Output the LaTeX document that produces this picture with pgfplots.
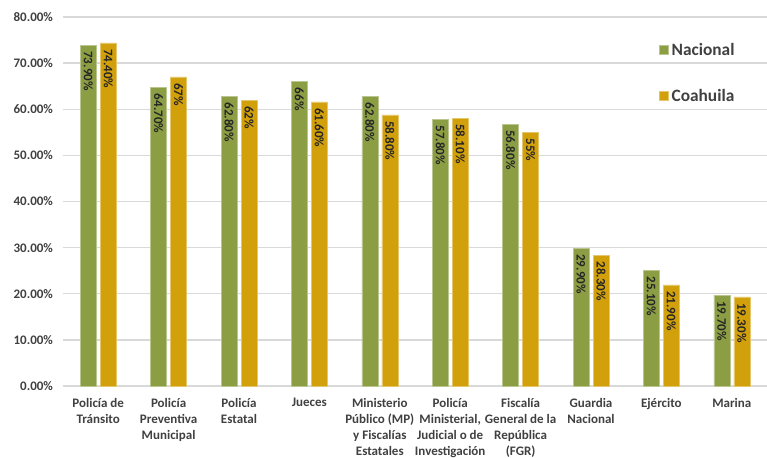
\documentclass[border=0pt]{standalone}
\usepackage{pgfplots}
\pgfplotsset{compat=1.18}
\usepackage{fontspec}
\setmainfont{Carlito}
\definecolor{nac}{RGB}{140,158,68}
\definecolor{coa}{RGB}{210,160,10}
\definecolor{grd}{RGB}{217,217,217}
\definecolor{txt}{RGB}{64,64,64}
\newcommand{\lbl}{\bfseries\fontsize{9.75}{12}\selectfont}
\begin{document}
\begin{tikzpicture}
\begin{axis}[
  scale only axis, width=528pt, height=276.75pt,
  xmin=-0.5, xmax=9.5, ymin=0, ymax=80,
  ybar=3pt, bar width=12pt,
  axis line style={draw=none}, major tick length=0pt,
  ymajorgrids, grid style={grd, line width=1.1pt},
  ytick={0,10,...,80},
  /pgf/number format/assume math mode=true,
  yticklabel={\pgfmathprintnumber[fixed,fixed zerofill,precision=2]{\tick}\%},
  yticklabel style={font=\lbl, text=txt, xshift=-4pt},
  xtick={0,...,9},
  xticklabels={{Policía de\\Tránsito},{Policía\\Preventiva\\Municipal},{Policía\\Estatal},{Jueces},{Ministerio\\Público (MP)\\y Fiscalías\\Estatales},{Policía\\Ministerial,\\Judicial o de\\Investigación},{Fiscalía\\General de la\\República\\(FGR)},{Guardia\\Nacional},{Ejército},{Marina}},
  xticklabel style={align=center, font=\lbl, text=txt, yshift=-5.5pt},
  nodes near coords, point meta=explicit symbolic,
  every node near coord/.append style={rotate=-90, anchor=west, font=\lbl, text=black!85, inner sep=4.5pt},
  legend style={at={(0.841,0.945)}, anchor=north west, draw=none, fill=none, font=\bfseries\fontsize{13}{15}\selectfont, text=txt, row sep=20pt},
  legend cell align=left,
  legend image code/.code={\fill[#1] (0pt,-3.4pt) rectangle (6.8pt,3.4pt);},
]
\addplot[fill=nac, draw=nac!60!white, line width=0.4pt] coordinates {
 (0,73.9) [73.90\%] (1,64.7) [64.70\%] (2,62.8) [62.80\%] (3,66) [66\%] (4,62.8) [62.80\%]
 (5,57.8) [57.80\%] (6,56.8) [56.80\%] (7,29.9) [29.90\%] (8,25.1) [25.10\%] (9,19.7) [19.70\%]};
\addlegendentry{Nacional}
\addplot[fill=coa, draw=coa!60!white, line width=0.4pt] coordinates {
 (0,74.4) [74.40\%] (1,67) [67\%] (2,62) [62\%] (3,61.6) [61.60\%] (4,58.8) [58.80\%]
 (5,58.1) [58.10\%] (6,55) [55\%] (7,28.3) [28.30\%] (8,21.9) [21.90\%] (9,19.3) [19.30\%]};
\addlegendentry{Coahuila}
\end{axis}
\pgfresetboundingbox
\path[use as bounding box] ([xshift=-47.25pt,yshift=-53.25pt]current axis.south west) rectangle ([yshift=12.75pt]current axis.north east);
\end{tikzpicture}
\end{document}
